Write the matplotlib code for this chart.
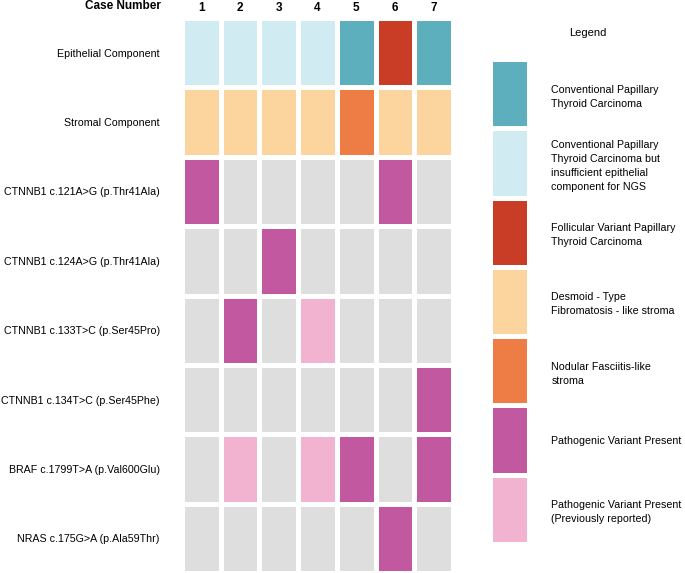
import numpy as np
import matplotlib.pyplot as plt
from matplotlib.colors import ListedColormap

plt.rcParams['font.family'] = ['Liberation Sans', 'DejaVu Sans']

cases = ['1', '2', '3', '4', '5', '6', '7']
row_labels = [
    'Epithelial Component',
    'Stromal Component',
    'CTNNB1 c.121A>G (p.Thr41Ala)',
    'CTNNB1 c.124A>G (p.Thr41Ala)',
    'CTNNB1 c.133T>C (p.Ser45Pro)',
    'CTNNB1 c.134T>C (p.Ser45Phe)',
    'BRAF c.1799T>A (p.Val600Glu)',
    'NRAS c.175G>A (p.Ala59Thr)',
]

# category codes: index into legend_labels / colors, 7 = not detected (grey)
status = [
    [1, 1, 1, 1, 0, 2, 0],
    [3, 3, 3, 3, 4, 3, 3],
    [5, 7, 7, 7, 7, 5, 7],
    [7, 7, 5, 7, 7, 7, 7],
    [7, 5, 7, 6, 7, 7, 7],
    [7, 7, 7, 7, 7, 7, 5],
    [7, 6, 7, 6, 5, 7, 5],
    [7, 7, 7, 7, 7, 5, 7],
]

legend_labels = [
    'Conventional Papillary\nThyroid Carcinoma',
    'Conventional Papillary\nThyroid Carcinoma but\ninsufficient epithelial\ncomponent for NGS',
    'Follicular Variant Papillary\nThyroid Carcinoma',
    'Desmoid - Type\nFibromatosis - like stroma',
    'Nodular Fasciitis-like\nstroma',
    'Pathogenic Variant Present',
    'Pathogenic Variant Present\n(Previously reported)',
]

colors = ['#5eafbd', '#d0ebf2', '#c93d27', '#fbd59d', '#ee7c45',
          '#c259a0', '#f2b3d1', '#dedede']
cmap = ListedColormap(colors)

W, H = 685, 573
fig = plt.figure(figsize=(W / 100, H / 100), dpi=100)


def px_axes(x0, y0, x1, y1):
    return fig.add_axes([x0 / W, 1 - y1 / H, (x1 - x0) / W, (y1 - y0) / H])


# main grid
ax = px_axes(182, 18, 453, 573)
data = np.array(status)
ax.pcolormesh(data, cmap=cmap, vmin=-0.5, vmax=7.5,
              edgecolors='white', linewidth=2.2)
ax.set_xlim(0, len(cases))
ax.set_ylim(len(row_labels), 0)
ax.set_xticks(np.arange(len(cases)) + 0.5)
ax.set_xticklabels(cases, fontsize=8.5, fontweight='bold')
ax.xaxis.tick_top()
ax.set_yticks(np.arange(len(row_labels)) + 0.5)
ax.set_yticklabels(row_labels, fontsize=7.7)
ax.tick_params(length=0, pad=16, axis='y')
ax.tick_params(length=0, pad=3, axis='x')
for s in ax.spines.values():
    s.set_visible(False)
fig.text(161 / W, 1 - 6 / H, 'Case Number', ha='right', va='center',
         fontsize=8.5, fontweight='bold')

# legend column
lax = px_axes(490, 59, 529, 544)
lax.pcolormesh(np.arange(len(legend_labels)).reshape(-1, 1), cmap=cmap,
               vmin=-0.5, vmax=7.5, edgecolors='white', linewidth=2.2)
lax.set_xlim(0, 1)
lax.set_ylim(len(legend_labels), 0)
lax.set_xticks([])
lax.set_yticks(np.arange(len(legend_labels)) + 0.5)
lax.set_yticklabels(legend_labels, fontsize=7.7, linespacing=1.5, ha='left')
lax.yaxis.tick_right()
lax.tick_params(length=0, pad=16)
for s in lax.spines.values():
    s.set_visible(False)
fig.text(588 / W, 1 - 33 / H, 'Legend', ha='center', va='center',
         fontsize=8)

fig.savefig('out.png', dpi=100)
